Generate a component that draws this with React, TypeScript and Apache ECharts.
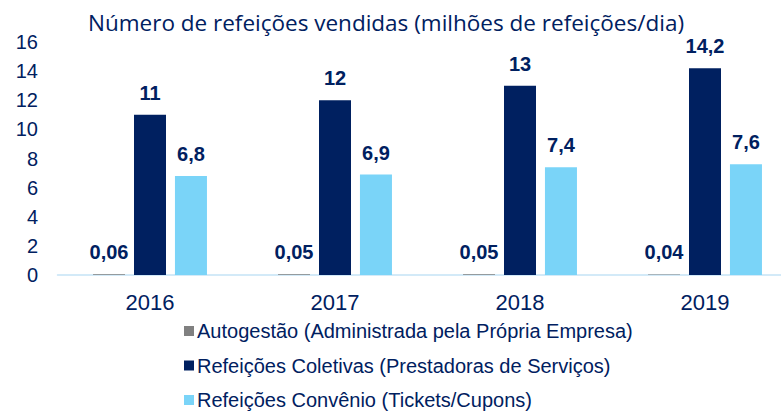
import React, { useEffect, useRef } from "react";
import * as echarts from "echarts";

const categories = ["2016", "2017", "2018", "2019"];
const autogestao = [0.06, 0.05, 0.05, 0.04];
const coletivas = [11, 12, 13, 14.2];
const convenio = [6.8, 6.9, 7.4, 7.6];
const seriesNames = [
  "Autogestão (Administrada pela Própria Empresa)",
  "Refeições Coletivas (Prestadoras de Serviços)",
  "Refeições Convênio (Tickets/Cupons)",
];
const title = "Número de refeições vendidas (milhões de refeições/dia)";

const NAVY = "#002060";
const ARIAL = "Liberation Sans, Arial, sans-serif";

export default function App() {
  const ref = useRef<HTMLDivElement>(null);
  useEffect(() => {
    if (!ref.current) return;
    const chart = echarts.init(ref.current, null, { renderer: "svg" });
    const label = {
      show: true,
      position: "top",
      distance: 12,
      color: NAVY,
      fontFamily: ARIAL,
      fontWeight: "bold",
      fontSize: 20,
      formatter: (p: any) => String(p.value).replace(".", ","),
    };
    chart.setOption({
      animation: false,
      title: {
        text: title,
        left: 381,
        textAlign: "center",
        top: 6,
        textStyle: {
          color: NAVY,
          fontFamily: "Open Sans, Noto Sans, sans-serif",
          fontWeight: "normal",
          fontSize: 22.5,
        },
      },
      legend: {
        orient: "vertical",
        left: 184,
        top: 321,
        height: 200,
        width: 590,
        itemWidth: 10,
        itemHeight: 10,
        itemGap: 14.5,
        icon: "rect",
        padding: 0,
        textStyle: {
          color: NAVY,
          fontFamily: ARIAL,
          fontSize: 20,
          padding: [0, 0, 0, -2],
        },
        data: seriesNames,
      },
      grid: {
        left: 57.5,
        width: 740,
        top: 42,
        bottom: 136,
        containLabel: false,
        outerBoundsMode: "none",
      },
      xAxis: {
        type: "category",
        data: categories,
        axisLine: { show: true, lineStyle: { color: "#C5E3F6", width: 1.5 } },
        axisTick: { show: false },
        axisLabel: {
          color: NAVY,
          fontFamily: ARIAL,
          fontSize: 22,
          margin: 16,
        },
      },
      yAxis: {
        type: "value",
        min: 0,
        max: 16,
        interval: 2,
        axisLine: { show: false },
        axisTick: { show: false },
        splitLine: { show: false },
        axisLabel: {
          color: NAVY,
          fontFamily: ARIAL,
          fontSize: 20,
          margin: 19.5,
        },
      },
      series: [
        { name: seriesNames[0], type: "bar", data: autogestao, itemStyle: { color: "#808080" }, barWidth: 32, barGap: "28%", label },
        { name: seriesNames[1], type: "bar", data: coletivas, itemStyle: { color: NAVY }, barWidth: 32, barGap: "28%", label },
        { name: seriesNames[2], type: "bar", data: convenio, itemStyle: { color: "#7AD4F8" }, barWidth: 32, barGap: "28%", label },
      ],
    });
    return () => chart.dispose();
  }, []);
  return <div ref={ref} style={{ width: 781, height: 411, position: "absolute", left: 0, top: 0 }} />;
}
